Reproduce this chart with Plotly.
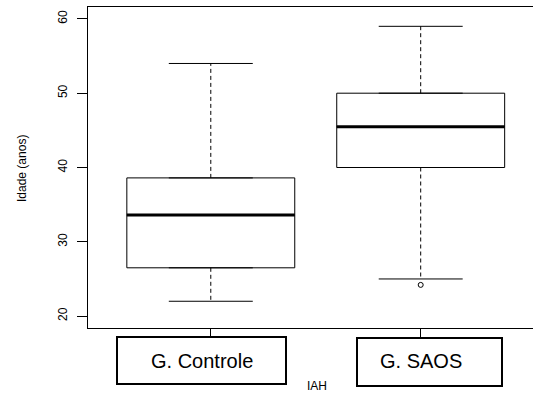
import plotly.graph_objects as go

# ---- data ----
groups = ["G. Controle", "G. SAOS"]
positions = [1, 2]
lower_whisker = [22.0, 25.0]
q1 = [26.5, 40.0]
median = [33.6, 45.5]
q3 = [38.6, 50.0]
upper_whisker = [54.0, 59.0]
outlier_pos = [2]
outlier_val = [24.2]
y_ticks = [20, 30, 40, 50, 60]
y_title = "Idade (anos)"
x_title = "IAH"

FONT = "Liberation Sans, Arial, sans-serif"
W, H = 533, 393
L, R, T, B = 88, 0, 7, 65
PW, PH = W - L - R, H - T - B
HALF = 0.4
STAPLE = 0.2

def px_x(p):
    return (p - L) / PW

def px_y(p):
    return (H - B - p) / PH

fig = go.Figure()

for i, p in enumerate(positions):
    # whiskers (dashed)
    fig.add_trace(go.Scatter(x=[p, p], y=[q3[i], upper_whisker[i]], mode="lines",
                             line=dict(color="black", width=1, dash="4px,3px"),
                             showlegend=False, hoverinfo="skip"))
    fig.add_trace(go.Scatter(x=[p, p], y=[q1[i], lower_whisker[i]], mode="lines",
                             line=dict(color="black", width=1, dash="4px,3px"),
                             showlegend=False, hoverinfo="skip"))
    # staples
    for v in (upper_whisker[i], lower_whisker[i]):
        fig.add_trace(go.Scatter(x=[p - STAPLE, p + STAPLE], y=[v, v], mode="lines",
                                 line=dict(color="black", width=1),
                                 showlegend=False, hoverinfo="skip"))
    # box body
    fig.add_trace(go.Box(x=[p], q1=[q1[i]], median=[median[i]], q3=[q3[i]],
                         lowerfence=[q1[i]], upperfence=[q3[i]], width=2 * HALF,
                         fillcolor="white", line=dict(color="black", width=1),
                         boxpoints=False, showlegend=False, name=groups[i]))
    # thick median
    fig.add_trace(go.Scatter(x=[p - HALF, p + HALF], y=[median[i], median[i]], mode="lines",
                             line=dict(color="black", width=3),
                             showlegend=False, hoverinfo="skip"))

fig.add_trace(go.Scatter(x=outlier_pos, y=outlier_val, mode="markers",
                         marker=dict(symbol="circle-open", size=5, color="black",
                                     line=dict(width=1, color="black")),
                         showlegend=False, hoverinfo="skip"))

# category label boxes
rects = [(117, 337, 286, 384), (357, 338, 502, 386)]
for (x0, y0, x1, y1) in rects:
    fig.add_shape(type="rect", xref="paper", yref="paper",
                  x0=px_x(x0), x1=px_x(x1), y0=px_y(y1), y1=px_y(y0),
                  line=dict(color="black", width=2), fillcolor="rgba(0,0,0,0)")

shifts = [-9, 0]
for i, p in enumerate(positions):
    fig.add_annotation(x=p, xref="x", xshift=shifts[i], y=px_y(361), yref="paper",
                       text=groups[i], showarrow=False, xanchor="center", yanchor="middle",
                       font=dict(family=FONT, size=20, color="black"))

fig.add_annotation(x=px_x(317), xref="paper", y=px_y(386), yref="paper", text=x_title,
                   showarrow=False, xanchor="center", yanchor="middle",
                   font=dict(family=FONT, size=12, color="black"))
fig.add_annotation(x=px_x(22), xref="paper", y=px_y(169), yref="paper", text=y_title,
                   textangle=-90, showarrow=False, xanchor="center", yanchor="middle",
                   font=dict(family=FONT, size=12, color="black"))

fig.update_layout(
    width=W, height=H, margin=dict(l=L, r=R, t=T, b=B, pad=0),
    paper_bgcolor="white", plot_bgcolor="white",
    font=dict(family=FONT, size=12, color="black"),
    showlegend=False,
)
fig.update_xaxes(range=[0.415, 2.535], tickvals=positions, ticktext=["", ""],
                 ticks="outside", ticklen=9, tickcolor="black", tickwidth=1,
                 showline=True, linecolor="black", linewidth=1, mirror=True,
                 showgrid=False, zeroline=False)
fig.update_yaxes(range=[18.4, 61.6], tickvals=y_ticks, tickangle=-90,
                 ticks="outside", ticklen=10, tickcolor="black", tickwidth=1,
                 ticklabelstandoff=5,
                 showline=True, linecolor="black", linewidth=1, mirror=False,
                 showgrid=False, zeroline=False,
                 tickfont=dict(family=FONT, size=12, color="black"))

fig.write_html("out.html")
